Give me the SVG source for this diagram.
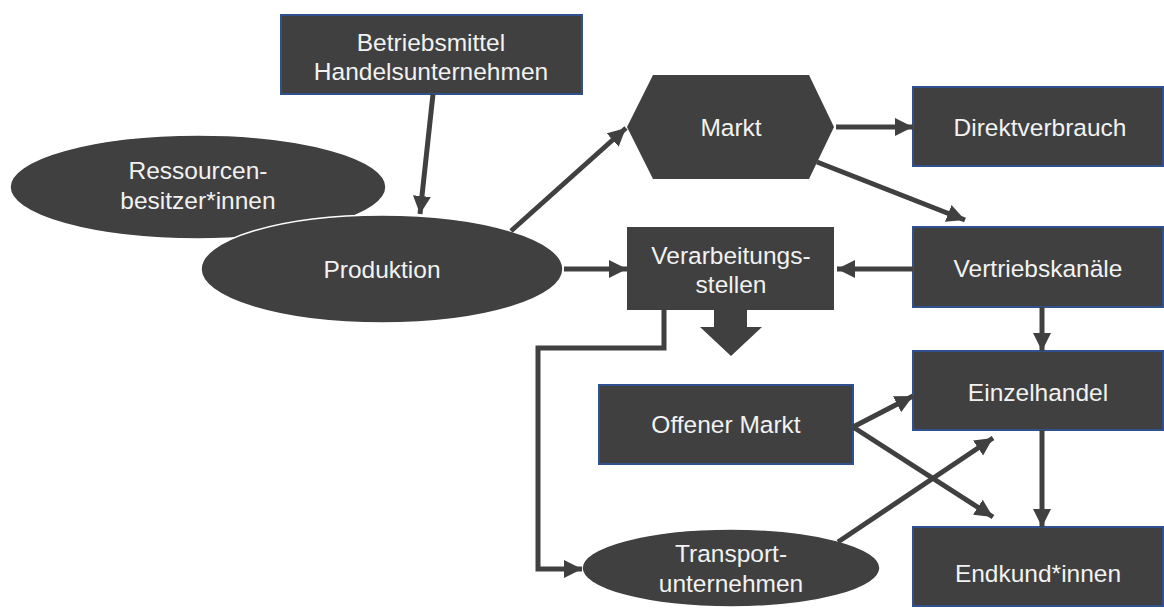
<svg xmlns="http://www.w3.org/2000/svg" width="1164" height="608" viewBox="0 0 1164 608">
<style>
.box{fill:#404040;stroke:#2f528f;stroke-width:2}
.nb{fill:#404040;stroke:none}
.ell{fill:#404040;stroke:#ffffff;stroke-width:1.5}
.t{fill:#f2f2f2;font-family:"Liberation Sans",Arial,sans-serif;font-size:24.5px;text-anchor:middle;dominant-baseline:central}
.c{stroke:#404040;stroke-width:5;fill:none}
</style>
<defs>
<marker id="ah" markerUnits="userSpaceOnUse" markerWidth="20" markerHeight="20" refX="18" refY="9" orient="auto" viewBox="0 0 20 20">
<path d="M0,0 L18,9 L0,18 z" fill="#404040"/>
</marker>
</defs>
<g id="ressourcen"><ellipse class="ell" cx="198" cy="187" rx="188" ry="52"/><text class="t" x="198" y="170">Ressourcen-</text><text class="t" x="198" y="200">besitzer*innen</text></g>
<g id="produktion"><ellipse class="ell" cx="382" cy="269" rx="181" ry="54"/><text class="t" x="382" y="269">Produktion</text></g>
<g id="betriebsmittel"><rect class="box" x="281" y="15" width="301" height="79"/><text class="t" x="431" y="42">Betriebsmittel</text><text class="t" x="431" y="71">Handelsunternehmen</text></g>
<g id="markt"><polygon class="nb" points="627,127 653,75 809,75 834,127 809,179 653,179"/><text class="t" x="731" y="127">Markt</text></g>
<g id="direktverbrauch"><rect class="box" x="913" y="87" width="250" height="79"/><text class="t" x="1040" y="127">Direktverbrauch</text></g>
<g id="verarbeitung"><rect class="nb" x="627" y="227" width="207" height="83"/><text class="t" x="731" y="255">Verarbeitungs-</text><text class="t" x="731" y="284">stellen</text></g>
<g id="vertrieb"><rect class="box" x="913" y="227" width="250" height="80"/><text class="t" x="1038" y="268">Vertriebskanäle</text></g>
<g id="einzelhandel"><rect class="box" x="913" y="351" width="250" height="79"/><text class="t" x="1038" y="392">Einzelhandel</text></g>
<g id="offener"><rect class="box" x="599" y="385" width="254" height="79"/><text class="t" x="726" y="424">Offener Markt</text></g>
<g id="endkund"><rect class="box" x="913" y="527" width="250" height="79"/><text class="t" x="1038" y="573">Endkund*innen</text></g>
<g id="transport"><ellipse class="ell" cx="731" cy="568" rx="149" ry="39"/><text class="t" x="731" y="553">Transport-</text><text class="t" x="731" y="583">unternehmen</text></g>
<g id="connectors">
<line class="c" x1="433" y1="94" x2="420" y2="214" marker-end="url(#ah)"/>
<line class="c" x1="511" y1="231" x2="626" y2="128" marker-end="url(#ah)"/>
<line class="c" x1="836" y1="127" x2="913" y2="127" marker-end="url(#ah)"/>
<line class="c" x1="817" y1="162" x2="965" y2="220" marker-end="url(#ah)"/>
<line class="c" x1="564" y1="269" x2="627" y2="269" marker-end="url(#ah)"/>
<line class="c" x1="913" y1="269" x2="837" y2="269" marker-end="url(#ah)"/>
<polygon points="714,310 747,310 747,327 762,327 731,356 700,327 714,327" fill="#404040"/>
<polyline class="c" points="664,310 664,348 538,348 538,569 582,569" marker-end="url(#ah)"/>
<line class="c" x1="1042" y1="307" x2="1042" y2="351" marker-end="url(#ah)"/>
<line class="c" x1="1042" y1="430" x2="1042" y2="527" marker-end="url(#ah)"/>
<line class="c" x1="853" y1="427" x2="913" y2="396" marker-end="url(#ah)"/>
<line class="c" x1="853" y1="427" x2="993" y2="517" marker-end="url(#ah)"/>
<line class="c" x1="838" y1="542" x2="993" y2="438" marker-end="url(#ah)"/>
</g>
</svg>
